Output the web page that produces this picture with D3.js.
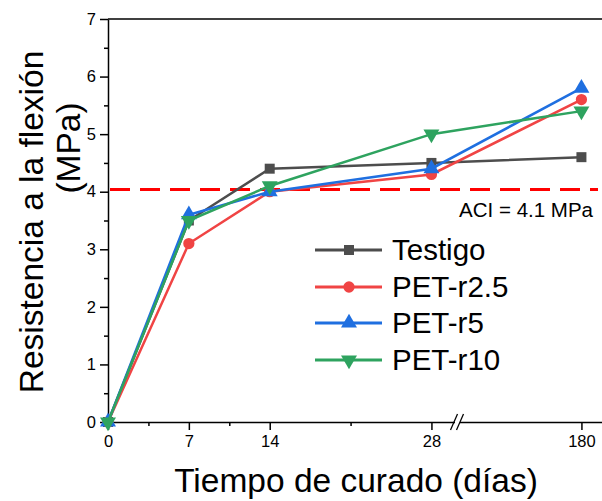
<!DOCTYPE html>
<html lang="es">
<head>
    <meta charset="UTF-8">
    <title>Resistencia a la flexión</title>
    <script src="https://d3js.org/d3.v7.min.js"></script>
    <style>
        body { margin: 0; background: #fff; }
        svg { font-family: "Liberation Sans", Arial, sans-serif; }
    </style>
</head>
<body>
    <div id="chart"></div>
    <script>
        // days of curing and flexural strength (MPa)
        const days = [0, 7, 14, 28, 180];
        const testigo = [0, 3.5, 4.4, 4.5, 4.6];
        const petR25 = [0, 3.1, 4.0, 4.3, 5.6];
        const petR5 = [0, 3.6, 4.0, 4.4, 5.8];
        const petR10 = [0, 3.5, 4.1, 5.0, 5.4];
        const seriesNames = ["Testigo", "PET-r2.5", "PET-r5", "PET-r10"];
        const aciLine = 4.04;
        const aciLabel = "ACI = 4.1 MPa";
        const xTicks = [0, 7, 14, 28, 180];
        const xMinor = [3.5, 10.5, 21];
        const yTicks = [0, 1, 2, 3, 4, 5, 6, 7];

        const W = 602, H = 501;
        const mLeft = 108, mTop = 19, mBottom = 422, mRight = 602;

        const colors = ["#4d4d4d", "#f04444", "#1f6fe0", "#2ea35f"];
        const shapes = [d3.symbolSquare, d3.symbolCircle, d3.symbolTriangle, d3.symbolTriangle];
        const rotations = [0, 0, 0, 180];
        const sizes = [100, 100, 110, 110];

        // broken axis: 0..30.3 then 150..185
        const x = d3.scaleLinear()
            .domain([0, 30.3, 150, 185])
            .range([mLeft, 458, 458, mRight]);
        const y = d3.scaleLinear().domain([0, 7]).range([mBottom, mTop]);

        const svg = d3.select("#chart").append("svg")
            .attr("width", W).attr("height", H);

        // top frame
        svg.append("line")
            .attr("x1", mLeft).attr("x2", mRight)
            .attr("y1", mTop).attr("y2", mTop)
            .attr("stroke", "#000").attr("stroke-width", 1.5);

        // y axis
        svg.append("g")
            .attr("transform", "translate(" + mLeft + ",0)")
            .call(d3.axisLeft(y).tickValues(yTicks).tickSize(8).tickSizeOuter(0).tickPadding(4).tickFormat(d3.format("d")));
        svg.append("g")
            .attr("transform", "translate(" + mLeft + ",0)")
            .call(d3.axisLeft(y).tickValues(d3.range(0.5, 7, 1)).tickSize(4).tickSizeOuter(0).tickFormat(""))
            .select(".domain").remove();

        // x axis
        svg.append("g")
            .attr("transform", "translate(0," + mBottom + ")")
            .call(d3.axisBottom(x).tickValues(xTicks).tickSize(8).tickSizeOuter(0).tickPadding(5).tickFormat(d3.format("d")));
        svg.append("g")
            .attr("transform", "translate(0," + mBottom + ")")
            .call(d3.axisBottom(x).tickValues(xMinor).tickSize(4).tickSizeOuter(0).tickFormat(""))
            .select(".domain").remove();

        svg.selectAll(".domain, .tick line").attr("stroke", "#000").attr("stroke-width", 1.5);
        svg.selectAll(".tick text").attr("font-size", 16.5).attr("fill", "#000")
            .attr("font-family", "Liberation Sans, Arial, sans-serif");

        // break marks on x axis
        const brk = svg.append("g").attr("transform", "translate(458," + mBottom + ")");
        brk.append("rect").attr("x", -3).attr("y", -3).attr("width", 5).attr("height", 6).attr("fill", "#fff");
        [-4.5, 1.5].forEach(dx => {
            brk.append("line")
                .attr("x1", dx - 3).attr("y1", 8).attr("x2", dx + 4).attr("y2", -8)
                .attr("stroke", "#000").attr("stroke-width", 1.3);
        });

        // ACI reference line
        svg.append("line")
            .attr("x1", mLeft + 2).attr("x2", mRight - 4)
            .attr("y1", y(aciLine)).attr("y2", y(aciLine))
            .attr("stroke", "#ff0000").attr("stroke-width", 3)
            .attr("stroke-dasharray", "20,10");
        svg.append("text")
            .attr("x", 593).attr("y", y(aciLine) + 28)
            .attr("text-anchor", "end")
            .attr("font-size", 20.5)
            .text(aciLabel);

        // series
        const allSeries = [testigo, petR25, petR5, petR10];
        const line = d3.line().x((d, i) => x(days[i])).y(d => y(d));

        allSeries.forEach((vals, k) => {
            svg.append("path")
                .datum(vals)
                .attr("d", line)
                .attr("fill", "none")
                .attr("stroke", colors[k])
                .attr("stroke-width", 2.5);
            svg.selectAll(".m" + k)
                .data(vals)
                .enter()
                .append("path")
                .attr("d", d3.symbol().type(shapes[k]).size(sizes[k]))
                .attr("transform", (d, i) => "translate(" + x(days[i]) + "," + y(d) + ") rotate(" + rotations[k] + ")")
                .attr("fill", colors[k]);
        });

        // legend
        const legendRows = [250, 287, 323, 360];
        seriesNames.forEach((name, k) => {
            const g = svg.append("g").attr("transform", "translate(0," + legendRows[k] + ")");
            g.append("line").attr("x1", 315).attr("x2", 382)
                .attr("stroke", colors[k]).attr("stroke-width", 3);
            g.append("path")
                .attr("d", d3.symbol().type(shapes[k]).size(sizes[k]))
                .attr("transform", "translate(349,0) rotate(" + rotations[k] + ")")
                .attr("fill", colors[k]);
            g.append("text").attr("x", 392).attr("y", 10)
                .attr("font-size", 29.5).text(name);
        });

        // axis titles
        svg.append("text")
            .attr("x", 356).attr("y", 492)
            .attr("text-anchor", "middle")
            .attr("font-size", 33.5)
            .text("Tiempo de curado (días)");

        svg.append("text")
            .attr("transform", "translate(43,222) rotate(-90)")
            .attr("text-anchor", "middle")
            .attr("font-size", 33.5)
            .text("Resistencia a la flexión");
        svg.append("text")
            .attr("transform", "translate(80,148) rotate(-90)")
            .attr("text-anchor", "middle")
            .attr("font-size", 33.5)
            .text("(MPa)");
    </script>
</body>
</html>
